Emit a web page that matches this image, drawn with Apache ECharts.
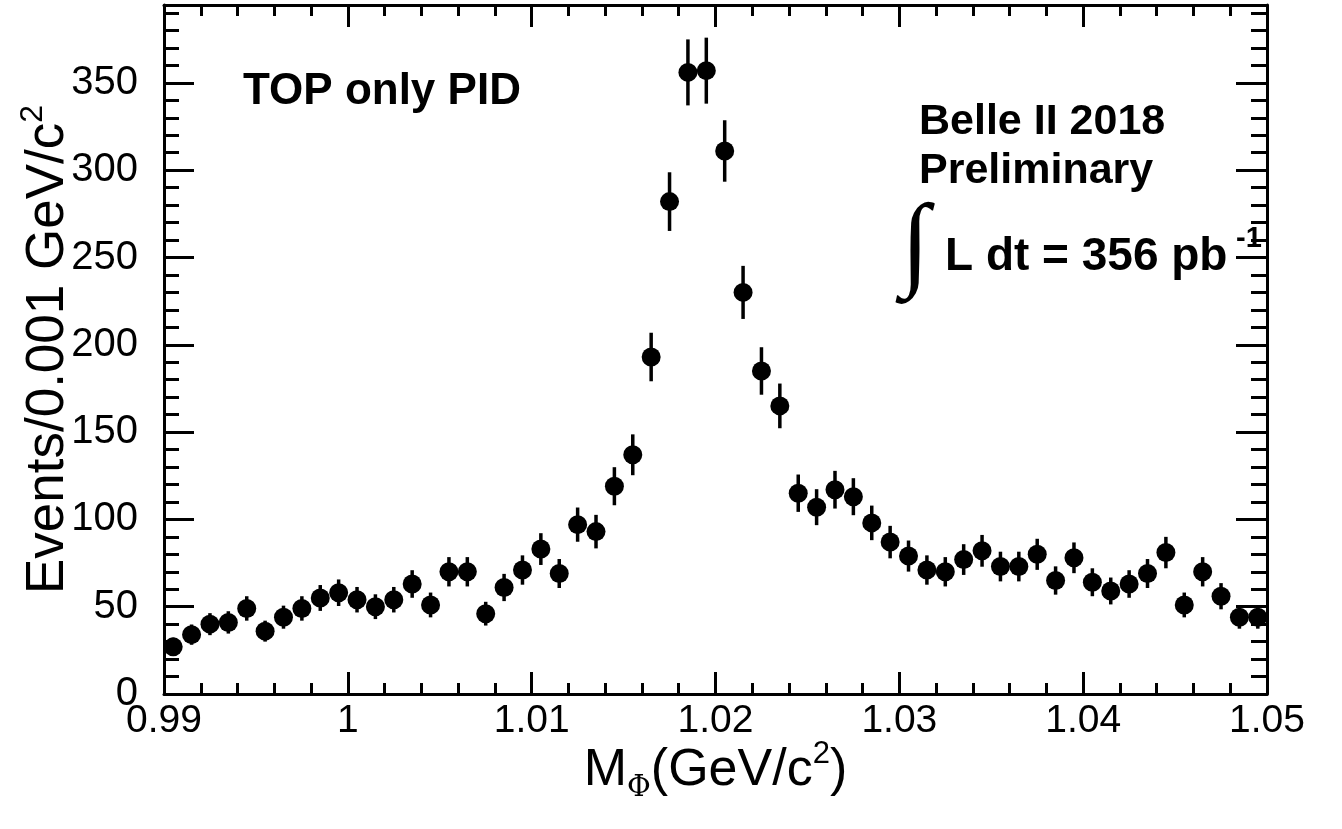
<!DOCTYPE html>
<html>
<head>
<meta charset="utf-8">
<script src="https://cdn.jsdelivr.net/npm/echarts@6/dist/echarts.min.js"></script>
<style>
html,body{margin:0;padding:0;background:#fff;}
#c{width:1342px;height:829px;}
</style>
</head>
<body>
<div id="c"></div>
<script>
// Bin centres of M_phi (GeV/c^2), bin width 0.001
const binCenters = [
  0.9905,0.9915,0.9925,0.9935,0.9945,0.9955,0.9965,0.9975,0.9985,0.9995,
  1.0005,1.0015,1.0025,1.0035,1.0045,1.0055,1.0065,1.0075,1.0085,1.0095,
  1.0105,1.0115,1.0125,1.0135,1.0145,1.0155,1.0165,1.0175,1.0185,1.0195,
  1.0205,1.0215,1.0225,1.0235,1.0245,1.0255,1.0265,1.0275,1.0285,1.0295,
  1.0305,1.0315,1.0325,1.0335,1.0345,1.0355,1.0365,1.0375,1.0385,1.0395,
  1.0405,1.0415,1.0425,1.0435,1.0445,1.0455,1.0465,1.0475,1.0485,1.0495
];
// Events per bin
const events = [
  27,34,40,41,49,36,44,49,55,58,
  54,50,54,63,51,70,70,46,61,71,
  83,69,97,93,119,137,193,282,356,357,
  311,230,185,165,115,107,117,113,98,87,
  79,71,70,77,82,73,73,80,65,78,
  64,59,63,69,81,51,70,56,44,44
];
// Statistical errors
const errors = [
  5.2,5.8,6.3,6.4,7.0,6.0,6.6,7.0,7.4,7.6,
  7.3,7.1,7.3,7.9,7.1,8.4,8.4,6.8,7.8,8.4,
  9.1,8.3,9.8,9.6,10.9,11.7,13.9,16.8,18.9,18.9,
  17.6,15.2,13.6,12.8,10.7,10.3,10.8,10.6,9.9,9.3,
  8.9,8.4,8.4,8.8,9.1,8.5,8.5,8.9,8.1,8.8,
  8.0,7.7,7.9,8.3,9.0,7.1,8.4,7.5,6.6,6.6
];
const xMin = 0.99, xMax = 1.05, xStep = 0.01;
const yMin = 0, yMax = 394.6, yMajor = 50, yMinor = 10;
const xTitle = 'M{sub|Φ}(GeV/c{sup|2})';
const yTitle = 'Events/0.001 GeV/c{sup|2}';
const labelTop = 'TOP only PID';
const labelExp = ['Belle II 2018', 'Preliminary'];
const labelLumi = 'L dt = 356 pb';
const labelLumiExp = '-1';

const FONT = 'Liberation Sans';
const points = binCenters.map((x, i) => [x, events[i], errors[i]]);

const chart = echarts.init(document.getElementById('c'), null, {renderer: 'canvas'});

const axisLine = {show: true, onZero: false, lineStyle: {color: '#000', width: 3}};
function xAx(pos, labels) {
  return {
    type: 'value', position: pos, min: xMin, max: xMax, interval: xStep,
    axisLine: axisLine,
    axisTick: {show: true, inside: true, length: 22, lineStyle: {color: '#000', width: 3}},
    minorTick: {show: true, splitNumber: 5, length: 11, lineStyle: {color: '#000', width: 3}},
    splitLine: {show: false}, minorSplitLine: {show: false},
    axisLabel: labels ? {
      show: true, color: '#000', fontFamily: FONT, fontSize: 39, margin: 8,
      formatter: v => String(parseFloat(Number(v).toFixed(3)))
    } : {show: false},
    name: labels ? xTitle : '',
    nameLocation: 'middle', nameGap: 45, nameMoveOverlap: false,
    nameTextStyle: {
      color: '#000', fontFamily: FONT, fontSize: 52, lineHeight: 64,
      rich: {
        sub: {fontFamily: 'DejaVu Serif', fontSize: 29, color: '#000', verticalAlign: 'bottom', lineHeight: 29},
        sup: {fontFamily: FONT, fontSize: 31, color: '#000', verticalAlign: 'top', lineHeight: 31}
      }
    }
  };
}
function yAx(pos, step, len, labels, line) {
  return {
    type: 'value', position: pos, min: yMin, max: yMax, interval: step,
    axisLine: line ? axisLine : {show: false},
    axisTick: {show: true, inside: true, length: len, lineStyle: {color: '#000', width: 3}},
    splitLine: {show: false},
    axisLabel: labels ? {show: true, color: '#000', fontFamily: FONT, fontSize: 40, margin: 26, showMaxLabel: false} : {show: false},
    name: labels ? yTitle : '',
    nameLocation: 'middle', nameRotate: 90, nameGap: 85, nameMoveOverlap: false,
    nameTextStyle: {
      color: '#000', fontFamily: FONT, fontSize: 53, lineHeight: 62,
      rich: {sup: {fontFamily: FONT, fontSize: 32, color: '#000', verticalAlign: 'top', lineHeight: 32}}
    }
  };
}

const option = {
  animation: false,
  backgroundColor: '#fff',
  grid: {left: 164, top: 5, width: 1103, height: 689, containLabel: false, outerBoundsMode: 'none'},
  xAxis: [xAx('bottom', true), xAx('top', false)],
  yAxis: [
    yAx('left', yMajor, 30, true, true),
    yAx('left', yMinor, 15, false, false),
    yAx('right', yMajor, 31, false, true),
    yAx('right', yMinor, 16, false, false)
  ],
  series: [
    {
      type: 'custom', xAxisIndex: 0, yAxisIndex: 0, data: points,
      encode: {x: 0, y: 1},
      renderItem: function (params, api) {
        const x = api.value(0), y = api.value(1), e = api.value(2);
        const p1 = api.coord([x, y + e]);
        const p2 = api.coord([x, y - e]);
        return {type: 'line', shape: {x1: p1[0], y1: p1[1], x2: p2[0], y2: p2[1]},
                style: {stroke: '#000', lineWidth: 3.5}};
      },
      z: 2
    },
    {
      type: 'scatter', xAxisIndex: 0, yAxisIndex: 0, data: points,
      symbol: 'circle', symbolSize: 19, itemStyle: {color: '#000', opacity: 1}, clip: false, z: 3
    }
  ],
  graphic: [
    {type: 'text', left: 243, top: 70, style: {text: labelTop, fontFamily: FONT, fontWeight: 'bold', fontSize: 44, fill: '#000'}},
    {type: 'text', left: 919, top: 101, style: {text: labelExp[0], fontFamily: FONT, fontWeight: 'bold', fontSize: 43, fill: '#000'}},
    {type: 'text', left: 919, top: 150, style: {text: labelExp[1], fontFamily: FONT, fontWeight: 'bold', fontSize: 43, fill: '#000'}},
    {type: 'text', left: 901, top: 197, style: {text: '∫', fontFamily: 'Liberation Serif', fontSize: 104, fill: '#000'}},
    {type: 'text', left: 945, top: 234, style: {text: labelLumi, fontFamily: FONT, fontWeight: 'bold', fontSize: 46, fill: '#000'}},
    {type: 'text', left: 1236, top: 224, style: {text: labelLumiExp, fontFamily: FONT, fontWeight: 'bold', fontSize: 29, fill: '#000'}}
  ]
};
chart.setOption(option);
</script>
</body>
</html>
